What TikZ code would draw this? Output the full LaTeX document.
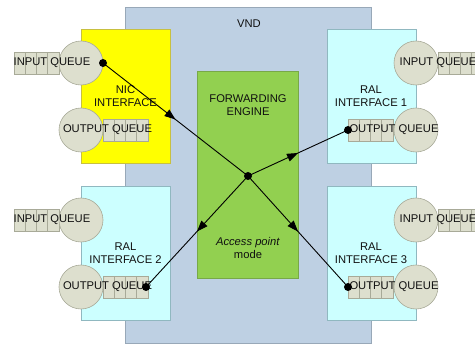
\documentclass[tikz,border=0pt]{standalone}
\usepackage{fontspec}
\setmainfont{Liberation Sans}
\usetikzlibrary{arrows.meta,decorations.markings,calc}
\definecolor{vndblue}{HTML}{BED0E3}
\definecolor{vndedge}{HTML}{98A8B8}
\definecolor{nicyellow}{HTML}{FFFF00}
\definecolor{nicedge}{HTML}{C8C040}
\definecolor{ralcyan}{HTML}{CCFFFF}
\definecolor{raledge}{HTML}{90B8C0}
\definecolor{enggreen}{HTML}{92D050}
\definecolor{engedge}{HTML}{78A848}
\definecolor{qfill}{HTML}{DDDFCE}
\definecolor{qedge}{HTML}{A8AA98}
\definecolor{txt}{HTML}{101010}
\begin{document}
\begin{tikzpicture}[x=1pt,y=-1pt,
  font=\fontsize{11.2}{13}\selectfont, text=txt,
  vndbox/.style={draw=vndedge, fill=vndblue, line width=0.8pt, minimum width=246pt, minimum height=336pt, inner sep=0pt},
  ifbox/.style={line width=0.8pt, minimum width=89pt, minimum height=134pt, inner sep=0pt},
  engbox/.style={draw=engedge, fill=enggreen, line width=0.8pt, minimum width=101pt, minimum height=207pt, inner sep=0pt},
  qcirc/.style={circle, draw=qedge, fill=qfill, line width=0.6pt, minimum size=44pt, inner sep=0pt},
  qbox/.style={draw=qedge, fill=qfill, line width=0.6pt, minimum width=45pt, minimum height=22pt, inner sep=0pt,
    path picture={\foreach \i in {1,2,3}{\draw[qedge, line width=0.6pt]
      ($(path picture bounding box.south west)!\i/4!(path picture bounding box.south east)$) --
      ($(path picture bounding box.north west)!\i/4!(path picture bounding box.north east)$);}}},
  lbl/.style={align=center, inner sep=0pt},
  conn/.style={line width=0.9pt, draw=black, postaction={decorate},
    decoration={markings, mark=at position 0.5 with {\arrow{Triangle[length=11pt,width=8pt]}}}}
]
\useasboundingbox (0,0) rectangle (475,345);

% VND background
\node[vndbox] (vnd) at (248,175) {};
\node[lbl] (vndlbl) at (249,24) {VND};

% interface boxes
\node[ifbox, draw=nicedge, fill=nicyellow] (nic) at (125.5,96) {};
\node[ifbox, draw=raledge, fill=ralcyan] (ral1) at (371.5,96) {};
\node[ifbox, draw=raledge, fill=ralcyan] (ral2) at (125.5,253) {};
\node[ifbox, draw=raledge, fill=ralcyan] (ral3) at (371.5,253) {};

% engine
\node[engbox] (eng) at (247.5,174.5) {};

% queues
\node[qbox] (nicinq) at (36.5,63) {};
\node[qbox] (nicoutq) at (125.5,130) {};
\node[qbox] (r1inq) at (460.5,63) {};
\node[qbox] (r1outq) at (370.5,130) {};
\node[qbox] (r2inq) at (36.5,220) {};
\node[qbox] (r2outq) at (125.5,287) {};
\node[qbox] (r3inq) at (460.5,220) {};
\node[qbox] (r3outq) at (370.5,287) {};

% circles
\node[qcirc] (nicin) at (81,63) {};
\node[qcirc] (nicout) at (81,130) {};
\node[qcirc] (r1in) at (416,63) {};
\node[qcirc] (r1out) at (416,130) {};
\node[qcirc] (r2in) at (81,220) {};
\node[qcirc] (r2out) at (81,287) {};
\node[qcirc] (r3in) at (416,220) {};
\node[qcirc] (r3out) at (416,287) {};

% queue labels
\node[lbl] (nicinl) at (52,63) {INPUT QUEUE};
\node[lbl] (nicoutl) at (107.5,130) {OUTPUT QUEUE};
\node[lbl] (r1inl) at (438,63) {INPUT QUEUE};
\node[lbl] (r1outl) at (394,130) {OUTPUT QUEUE};
\node[lbl] (r2inl) at (52,220) {INPUT QUEUE};
\node[lbl] (r2outl) at (107.5,287) {OUTPUT QUEUE};
\node[lbl] (r3inl) at (438,220) {INPUT QUEUE};
\node[lbl] (r3outl) at (394,287) {OUTPUT QUEUE};

% box labels
\node[lbl] (nicl) at (125.5,96.5) {NIC\\INTERFACE};
\node[lbl] (ral1l) at (371,96.5) {RAL\\INTERFACE 1};
\node[lbl] (ral2l) at (125.5,253) {RAL\\INTERFACE 2};
\node[lbl] (ral3l) at (371,253) {RAL\\INTERFACE 3};
\node[lbl] (engl) at (248,105.5) {FORWARDING\\ENGINE};
\node[lbl] (apl) at (248,248) {\textit{Access point}\\mode};

% connection points
\coordinate (nicdot) at (103,63);
\coordinate (r1dot) at (348,130);
\coordinate (r2dot) at (146,287);
\coordinate (r3dot) at (348,287);
\coordinate (hub) at (248,176);

\draw[conn] (nicdot) -- (hub);
\draw[conn] (hub) -- (r1dot);
\draw[conn] (hub) -- (r2dot);
\draw[conn] (hub) -- (r3dot);

\foreach \p in {nicdot,r1dot,r2dot,r3dot,hub}{\fill[black] (\p) circle (4pt);}
\end{tikzpicture}
\end{document}
